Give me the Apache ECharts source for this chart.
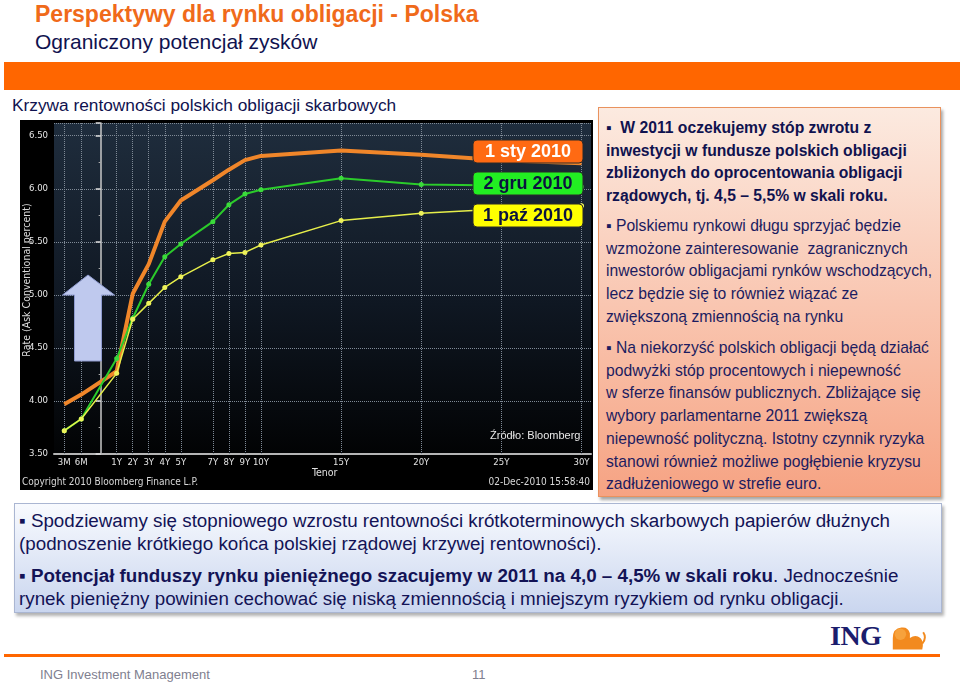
<!DOCTYPE html>
<html><head><meta charset="utf-8">
<script src="https://cdn.jsdelivr.net/npm/echarts@6/dist/echarts.min.js"></script>
<style>
html,body{margin:0;padding:0;background:#fff;width:960px;height:686px;overflow:hidden;font-family:'Liberation Sans',Arial,sans-serif;}
.abs{position:absolute;white-space:nowrap;}
#title{left:35px;top:1px;font-size:23px;font-weight:bold;color:#F06A1A;}
#subtitle{left:35px;top:30px;font-size:21px;color:#10124f;}
#band{left:4px;top:62px;width:956px;height:28px;background:#FF6600;}
#section{left:12px;top:95px;font-size:17.3px;color:#10124f;}
#chart{left:20px;top:120px;width:573px;height:370px;background:#000;}
#rbox{left:598px;top:107px;width:341px;height:388px;border:1px solid #E9925E;background:linear-gradient(#FCEAE0,#F6A383);box-shadow:2px 3px 3px rgba(0,0,0,0.35);}
.rp{position:absolute;left:7px;font-size:15.7px;line-height:22.7px;color:#1c1c60;white-space:nowrap;}
#bbox{left:14px;top:503px;width:926px;height:108px;border:1px solid #AAB6D2;background:linear-gradient(#F8FAFE,#CAD6EF);box-shadow:2px 3px 3px rgba(0,0,0,0.3);}
.bp{position:absolute;left:4px;font-size:18.8px;line-height:22.5px;color:#131356;white-space:nowrap;}
#orline{left:4px;top:654px;width:936px;height:3px;background:#FF6600;}
#foot{left:40px;top:667px;font-size:13px;color:#80808f;}
#page{left:472px;top:667px;font-size:13px;color:#80808f;}
#ing{left:830px;top:620px;font-family:'Liberation Serif',serif;font-weight:bold;font-size:28px;color:#1b1d6d;letter-spacing:-0.5px;}
</style></head>
<body>
<div id="title" class="abs">Perspektywy dla rynku obligacji - Polska</div>
<div id="subtitle" class="abs">Ograniczony potencjał zysków</div>
<div id="band" class="abs"></div>
<div id="section" class="abs">Krzywa rentowności polskich obligacji skarbowych</div>
<div id="chart" class="abs"></div>
<div id="rbox" class="abs">
  <div class="rp" style="top:9px;font-weight:bold;color:#10124f;">&#9642;&nbsp;&nbsp;W 2011 oczekujemy stóp zwrotu z<br>inwestycji w fundusze polskich obligacji<br>zbliżonych do oprocentowania obligacji<br>rządowych, tj. 4,5 – 5,5% w skali roku.</div>
  <div class="rp" style="top:107px;">&#9642; Polskiemu rynkowi długu sprzyjać będzie<br>wzmożone zainteresowanie&nbsp; zagranicznych<br>inwestorów obligacjami rynków wschodzących,<br>lecz będzie się to również wiązać ze<br>zwiększoną zmiennością na rynku</div>
  <div class="rp" style="top:229px;">&#9642; Na niekorzyść polskich obligacji będą działać<br>podwyżki stóp procentowych i niepewność<br>w sferze finansów publicznych. Zbliżające się<br>wybory parlamentarne 2011 zwiększą<br>niepewność polityczną. Istotny czynnik ryzyka<br>stanowi również możliwe pogłębienie kryzysu<br>zadłużeniowego w strefie euro.</div>
</div>
<div id="bbox" class="abs">
  <div class="bp" style="top:6px;">&#9642; Spodziewamy się stopniowego wzrostu rentowności krótkoterminowych skarbowych papierów dłużnych<br>(podnoszenie krótkiego końca polskiej rządowej krzywej rentowności).</div>
  <div class="bp" style="top:61px;">&#9642; <b>Potencjał funduszy rynku pieniężnego szacujemy w 2011 na 4,0 – 4,5% w skali roku</b>. Jednocześnie<br>rynek pieniężny powinien cechować się niską zmiennością i mniejszym ryzykiem od rynku obligacji.</div>
</div>
<div id="ing" class="abs">ING</div>
<svg class="abs" style="left:889px;top:624px;" width="38" height="28" viewBox="0 0 40 28">
  <path d="M4 26 L4 14 Q4 4 13 3 Q20 2 22 9 L22 14 Q28 10 33 14 Q37 18 35 26 Z" fill="#F28A1E"/>
  <circle cx="12" cy="10" r="6" fill="#F7A23C"/>
  <path d="M35 20 Q40 14 36 8" stroke="#F28A1E" stroke-width="2" fill="none"/>
</svg>
<div id="orline" class="abs"></div>
<div id="foot" class="abs">ING Investment Management</div>
<div id="page" class="abs">11</div>
<script>
// ---- data ----
const tenorLabels = ['3M','6M','1Y','2Y','3Y','4Y','5Y','7Y','8Y','9Y','10Y','15Y','20Y','25Y','30Y'];
// position of each tenor on the Bloomberg tenor axis (non-linear below 1Y)
const tenorAxisPos = [-2.27,-1.21,1,2,3,4,5,7,8,9,10,15,20,25,30];
const seriesNames = ['1 sty 2010','2 gru 2010','1 paź 2010'];
const yieldJan2010 = [3.97,4.06,4.28,5.01,5.29,5.69,5.89,6.08,6.18,6.27,6.31,6.36,6.32,6.27,6.24];
const yieldDec2010 = [3.72,3.83,4.40,4.78,5.10,5.36,5.48,5.69,5.85,5.95,5.99,6.10,6.04,6.03,6.02];
const yieldOct2010 = [3.72,3.83,4.26,4.77,4.92,5.07,5.17,5.33,5.39,5.40,5.47,5.70,5.77,5.81,5.84];
const yAxisName = 'Rate (Ask Conventional percent)';
const xAxisName = 'Tenor';

const chart = echarts.init(document.getElementById('chart'), null, {renderer:'canvas'});
const pts = arr => tenorAxisPos.map((p,i)=>[p, arr[i]]);
const gridColor = '#7f8a96';
const smallFont = "'DejaVu Sans Condensed','Liberation Sans Narrow','Liberation Sans',sans-serif";

function tag(y, fill, txtColor, text){
  return [
    {type:'rect', z:100, shape:{x:453,y:y,width:110,height:23,r:4}, style:{fill:fill, stroke:'#2a2a2a', lineWidth:1}},
    {type:'text', z:101, style:{text:text, x:508, y:y+12, fill:txtColor, font:"bold 18px 'Liberation Sans',Arial,sans-serif", align:'center', verticalAlign:'middle', textAlign:'center', textVerticalAlign:'middle'}}
  ];
}

chart.setOption({
  backgroundColor:'#000',
  animation:false,
  grid:{left:34, top:3, right:2, bottom:36, show:true, borderWidth:0, outerBoundsMode:'none', containLabel:false,
    backgroundColor:{type:'linear',x:0,y:0,x2:0,y2:1,colorStops:[{offset:0,color:'#1f2d3d'},{offset:0.55,color:'#0f1722'},{offset:1,color:'#020304'}]}},
  xAxis:{type:'value', min:-2.91, max:30.59,
    axisLine:{show:true, onZero:false, lineStyle:{color:'#b5b5b5', width:2}},
    axisTick:{show:false},
    splitLine:{show:false},
    axisLabel:{customValues:tenorAxisPos, color:'#e2e2e2', fontSize:9.5, fontFamily:smallFont, margin:4,
      formatter:v=>{const i=tenorAxisPos.findIndex(p=>Math.abs(p-v)<1e-6); return i>=0?tenorLabels[i]:'';}}
  },
  yAxis:{type:'value', min:3.5, max:6.62, interval:0.5,
    axisLine:{show:true, lineStyle:{color:'#c8c8c8', width:1.5}},
    axisTick:{show:true, length:5, lineStyle:{color:'#e0e0e0', width:1.5}},
    minorTick:{show:true, splitNumber:2, length:2, lineStyle:{color:'#aaa'}},
    axisLabel:{color:'#e6e6e6', fontSize:9.5, fontFamily:smallFont, margin:6, showMaxLabel:false,
      formatter:v=>v.toFixed(2)},
    splitLine:{show:true, lineStyle:{color:gridColor, type:'dotted', width:1}}
  },
  series:[
    {type:'line', name:'grid', data:[], silent:true, z:1,
      markLine:{silent:true, symbol:['none','none'], label:{show:false}, animation:false,
        lineStyle:{color:gridColor, type:'dotted', width:1},
        data:tenorAxisPos.map(p=>({xAxis:p}))}},
    {type:'line', name:seriesNames[0], data:pts(yieldJan2010), z:10, showSymbol:false,
      lineStyle:{color:'#F0862A', width:4}, itemStyle:{color:'#F0862A'}},
    {type:'line', name:seriesNames[1], data:pts(yieldDec2010), z:11, symbol:'circle', symbolSize:5,
      lineStyle:{color:'#2BCB2B', width:2}, itemStyle:{color:'#3BDB3B'}},
    {type:'line', name:seriesNames[2], data:pts(yieldOct2010), z:12, symbol:'circle', symbolSize:5,
      lineStyle:{color:'#E6EE4A', width:1.5}, itemStyle:{color:'#EEF25A'}}
  ],
  graphic:[
    {type:'polygon', z:50, shape:{points:[[68,155],[94.5,175],[81.5,175],[81.5,241],[54.5,241],[54.5,175],[42.5,175]]},
      style:{fill:'#BFC9EE', stroke:'#8f9bd0', lineWidth:1}},
    ...tag(20,'#FF6A13','#ffffff',seriesNames[0]),
    ...tag(52,'#22EE22','#0b1340',seriesNames[1]),
    ...tag(84,'#FFFF00','#0b1340',seriesNames[2]),
    {type:'text', z:100, x:7, y:160, rotation:Math.PI/2,
      style:{text:yAxisName, x:0, y:0, fill:'#dcdcdc', font:"10.5px "+smallFont, align:'center', verticalAlign:'middle', textAlign:'center', textVerticalAlign:'middle'}},
    {type:'text', z:100, style:{text:'Źródło: Bloomberg', x:470, y:310, fill:'#e8e8e8', font:"11px 'Liberation Sans',Arial,sans-serif"}},
    {type:'text', z:100, style:{text:xAxisName, x:292, y:348, fill:'#e0e0e0', font:"10.5px "+smallFont}},
    {type:'text', z:100, style:{text:'Copyright 2010 Bloomberg Finance L.P.', x:2, y:357, fill:'#d8d8d8', font:"10px "+smallFont}},
    {type:'text', z:100, style:{text:'02-Dec-2010 15:58:40', x:570, y:357, fill:'#d8d8d8', font:"10px "+smallFont, align:'right', textAlign:'right'}}
  ]
});
</script>
</body></html>
